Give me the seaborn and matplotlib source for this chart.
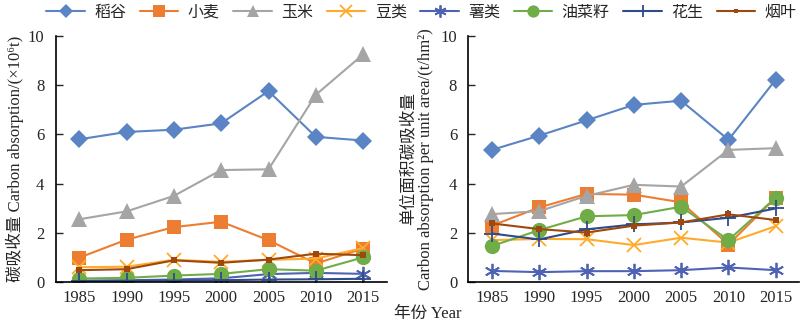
import matplotlib
matplotlib.use("Agg")
import matplotlib.pyplot as plt
import seaborn as sns
import numpy as np
from matplotlib.lines import Line2D

years = ["1985", "1990", "1995", "2000", "2005", "2010", "2015"]
crops = ["稻谷", "小麦", "玉米", "豆类", "薯类", "油菜籽", "花生", "烟叶"]

# total carbon absorption (x10^6 t)
total_rice = [5.80, 6.10, 6.19, 6.45, 7.76, 5.90, 5.75]
total_wheat = [0.99, 1.72, 2.23, 2.45, 1.70, 0.75, 1.36]
total_corn = [2.55, 2.87, 3.50, 4.55, 4.58, 7.61, 9.25]
total_bean = [0.60, 0.62, 0.90, 0.82, 0.90, 0.95, 1.38]
total_tuber = [0.05, 0.07, 0.10, 0.15, 0.32, 0.37, 0.33]
total_rape = [0.14, 0.17, 0.26, 0.33, 0.52, 0.46, 1.00]
total_peanut = [0.04, 0.05, 0.06, 0.07, 0.10, 0.11, 0.13]
total_tobacco = [0.48, 0.52, 0.88, 0.78, 0.91, 1.15, 1.09]

# carbon absorption per unit area (t/hm2)
unit_rice = [5.37, 5.95, 6.57, 7.20, 7.37, 5.78, 8.23]
unit_wheat = [2.29, 3.03, 3.58, 3.55, 3.24, 1.52, 3.43]
unit_corn = [2.76, 2.88, 3.50, 3.95, 3.88, 5.37, 5.44]
unit_bean = [1.70, 1.75, 1.74, 1.50, 1.80, 1.60, 2.27]
unit_tuber = [0.45, 0.40, 0.44, 0.44, 0.48, 0.59, 0.48]
unit_rape = [1.46, 2.11, 2.67, 2.72, 3.06, 1.70, 3.43]
unit_peanut = [1.97, 1.73, 2.14, 2.34, 2.42, 2.61, 2.99]
unit_tobacco = [2.38, 2.15, 2.01, 2.29, 2.42, 2.75, 2.52]

total_series = [total_rice, total_wheat, total_corn, total_bean,
                total_tuber, total_rape, total_peanut, total_tobacco]
unit_series = [unit_rice, unit_wheat, unit_corn, unit_bean,
               unit_tuber, unit_rape, unit_peanut, unit_tobacco]

colors = ["#5B84C4", "#ED7D31", "#A5A5A5", "#FFAA2B",
          "#4F63B5", "#70AD47", "#2F4B8A", "#9E480E"]
markers = ["D", "s", "^", "x", (6, 2, 0), "o", "+", "s"]
msizes = [9, 10, 11, 10, 11, 11, 11, 4]
mew = [0, 0, 0, 1.3, 1.3, 0, 1.3, 0]

sns.set_style("white")
plt.rcParams["font.family"] = ["Liberation Serif", "Noto Sans CJK SC"]
plt.rcParams["axes.unicode_minus"] = False

fig = plt.figure(figsize=(8.0, 3.29), dpi=100)
ax1 = fig.add_axes([0.0695, 0.1429, 0.414, 0.7477])
ax2 = fig.add_axes([0.5853, 0.1429, 0.414, 0.7477])

xpos = np.arange(len(years))

def draw(ax, series):
    for vals, c, m, ms, w in zip(series, colors, markers, msizes, mew):
        sns.lineplot(x=xpos, y=vals, ax=ax, color=c, marker=m, markersize=ms,
                     markeredgewidth=w, markeredgecolor=c, linewidth=1.5,
                     legend=False)
    ax.set_xlim(-0.5, 6.5)
    ax.set_ylim(0, 10)
    ax.set_xticks(xpos)
    ax.set_xticklabels(years, fontsize=12)
    ax.set_xticks(np.arange(-0.5, 7.0, 1.0), minor=True)
    ax.tick_params(axis="x", which="major", length=0, pad=6)
    ax.tick_params(axis="x", which="minor", direction="in", length=5, width=1, color="black")
    ax.set_yticks([0, 2, 4, 6, 8, 10])
    ax.tick_params(axis="y", direction="in", length=5, width=1, labelsize=12, pad=8, left=True)
    for s in ["top", "right"]:
        ax.spines[s].set_visible(False)
    for s in ["left", "bottom"]:
        ax.spines[s].set_color("black")
        ax.spines[s].set_linewidth(1.2)
    ax.grid(False)
    ax.set_xlabel("")

draw(ax1, total_series)
draw(ax2, unit_series)

ax1.set_ylabel("碳吸收量 Carbon absorption/(×10\u2076t)", fontsize=12, labelpad=3)
ax2.set_ylabel("单位面积碳吸收量\nCarbon absorption per unit area/(t/hm\u00b2)",
               fontsize=12, labelpad=5, linespacing=1.1)

fig.text(0.535, 0.02, "年份 Year", ha="center", va="bottom", fontsize=12)

handles = [Line2D([0], [0], color=c, marker=m, markersize=ms * 0.8,
                  markeredgewidth=w, markeredgecolor=c, linewidth=1.5)
           for c, m, ms, w in zip(colors, markers, msizes, mew)]
fig.legend(handles, crops, loc="upper center", bbox_to_anchor=(0.527, 1.03),
           ncol=8, frameon=False, fontsize=11.5, handlelength=2.4,
           columnspacing=0.85, handletextpad=0.6)

fig.savefig("out.png", dpi=100)
